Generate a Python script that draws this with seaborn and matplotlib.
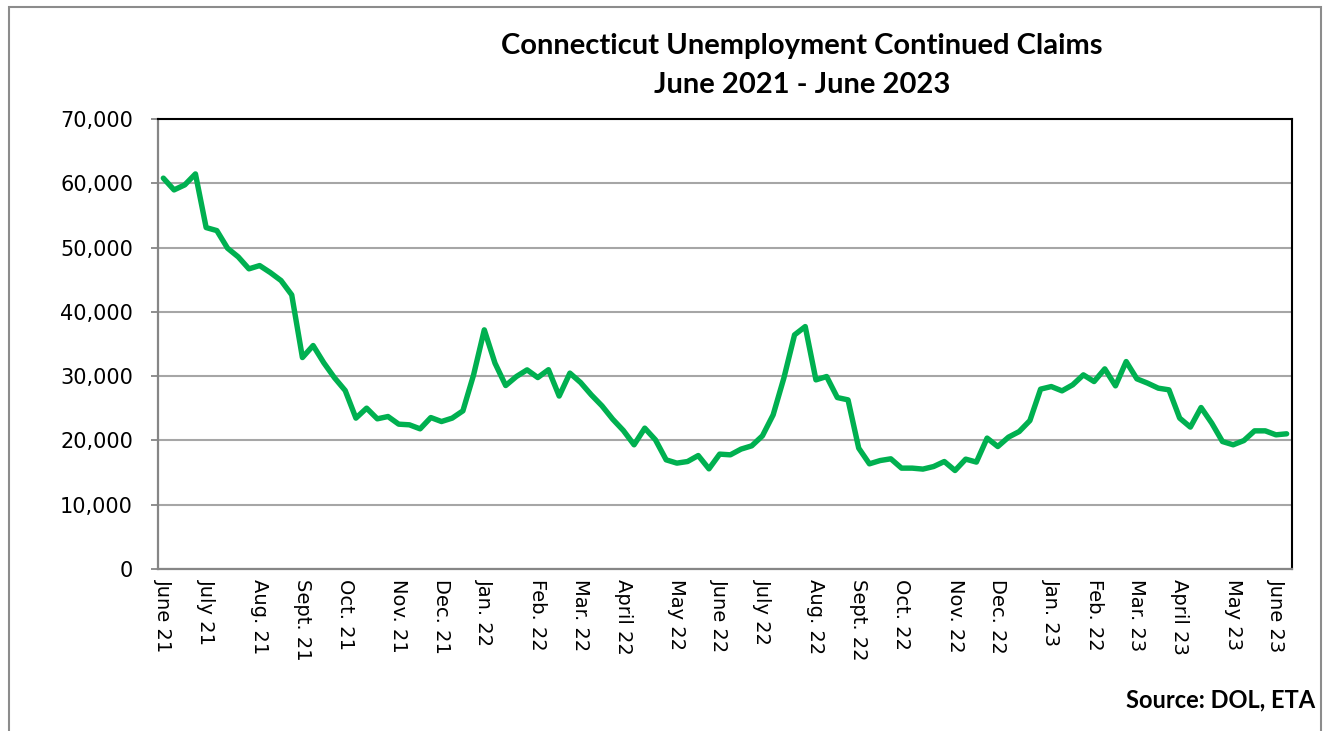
"""
Connecticut - seguro-desemprego, pedidos continuados (semanal), jun/2021 a jun/2023.

Saída:
    - out.png
"""

import matplotlib.pyplot as plt
import pandas as pd
import seaborn as sns
from matplotlib.patches import Rectangle
from matplotlib.ticker import FixedLocator, FuncFormatter

# ---------------------------------------------------------------------------
# 1. Dados (valores semanais)
# ---------------------------------------------------------------------------
CLAIMS = [
    60800, 58970, 59750, 61460, 53110, 52640, 49900, 48550, 46690, 47200,
    46110, 44870, 42640, 32890, 34760, 32070, 29740, 27760, 23470, 25020,
    23360, 23720, 22530, 22430, 21800, 23560, 22940, 23470, 24600, 30200,
    37200, 32020, 28540, 29940, 30980, 29780, 31000, 26900, 30470, 29010,
    27090, 25380, 23310, 21540, 19320, 21910, 20090, 16980, 16470, 16720,
    17650, 15580, 17870, 17760, 18650, 19160, 20720, 23980, 29690, 36420,
    37710, 29420, 29940, 26670, 26310, 18800, 16360, 16870, 17140, 15690,
    15690, 15540, 15940, 16720, 15320, 17090, 16630, 20360, 19050, 20510,
    21380, 23090, 27980, 28380, 27710, 28650, 30200, 29160, 31130, 28490,
    32270, 29580, 28910, 28130, 27870, 23470, 22070, 25120, 22690, 19830,
    19320, 19980, 21490, 21490, 20870, 21030,
]

# rótulos de categoria (só algumas semanas têm rótulo)
MONTH_LABELS = [
    "June 21", "July 21", "Aug. 21", "Sept. 21", "Oct. 21", "Nov. 21",
    "Dec. 21", "Jan. 22", "Feb. 22", "Mar. 22", "April 22", "May 22",
    "June 22", "July 22", "Aug. 22", "Sept. 22", "Oct. 22", "Nov. 22",
    "Dec. 22", "Jan. 23", "Feb. 22", "Mar. 23", "April 23", "May 23",
    "June 23",
]
MONTH_WEEKS = [
    0, 4, 9, 13, 17, 22, 26, 30, 35, 39, 43, 48, 52,
    56, 61, 65, 69, 74, 78, 83, 87, 91, 95, 100, 104,
]

df = pd.DataFrame({"semana": range(len(CLAIMS)), "claims": CLAIMS})

# ---------------------------------------------------------------------------
# 2. Estilo
# ---------------------------------------------------------------------------
sns.set_theme(style="white")
plt.rcParams["font.family"] = ["DejaVu Sans"]
plt.rcParams["text.color"] = "black"

GREEN = "#00B050"
GRID = "#A6A6A6"
AXIS_GRAY = "#868686"

fig = plt.figure(figsize=(13.23, 7.31), dpi=100)
ax = fig.add_axes([158 / 1323, 1 - 569 / 731, (1292 - 158) / 1323, (569 - 119) / 731])

# ---------------------------------------------------------------------------
# 3. Linha
# ---------------------------------------------------------------------------
sns.lineplot(data=df, x="semana", y="claims", color=GREEN, linewidth=3.9, ax=ax)

ax.set_xlim(-0.5, len(CLAIMS) - 0.5)
ax.set_ylim(0, 70000)
ax.set_yticks(range(0, 70001, 10000))
ax.yaxis.set_major_formatter(FuncFormatter(lambda v, _: f"{int(v):,}"))
ax.grid(axis="y", color=GRID, linewidth=1.5)
ax.grid(axis="x", visible=False)
ax.set_axisbelow(True)

# marcas a cada 28 semanas (entre categorias), rótulos nas semanas escolhidas
ax.xaxis.set_major_locator(FixedLocator([-0.5, 27.5, 55.5, 83.5]))
ax.xaxis.set_major_formatter(FuncFormatter(lambda v, _: ""))
ax.xaxis.set_minor_locator(FixedLocator(MONTH_WEEKS))
ax.set_xticklabels(MONTH_LABELS, minor=True)
ax.tick_params(axis="x", which="major", length=5, width=1.3, color=AXIS_GRAY, direction="inout")
ax.tick_params(axis="x", which="minor", length=0, pad=7, labelsize=14, labelrotation=-90,
               labelcolor="black")
ax.tick_params(axis="y", length=5, width=1.3, color=AXIS_GRAY, pad=13, labelsize=15, left=True,
               labelcolor="black")
for lab in ax.get_xticklabels(minor=True):
    lab.set_verticalalignment("top")

ax.set_xlabel("")
ax.set_ylabel("")

for side in ["left", "bottom"]:
    ax.spines[side].set_color(AXIS_GRAY)
    ax.spines[side].set_linewidth(1.6)
for side in ["top", "right"]:
    ax.spines[side].set_color("black")
    ax.spines[side].set_linewidth(1.5)

# ---------------------------------------------------------------------------
# 4. Títulos, fonte e moldura
# ---------------------------------------------------------------------------
fig.text(802 / 1323, 1 - 46 / 731, "Connecticut Unemployment Continued Claims",
         ha="center", va="center", fontsize=21, fontweight="bold", family="Lato")
fig.text(802 / 1323, 1 - 85 / 731, "June 2021 - June 2023",
         ha="center", va="center", fontsize=21, fontweight="bold", family="Lato")
fig.text(1315 / 1323, 1 - 700 / 731, "Source: DOL, ETA",
         ha="right", va="center", fontsize=17, fontweight="bold", family="Lato")

fig.patches.append(Rectangle(
    (9 / 1323, -0.05), (1321 - 9) / 1323, 1.05 - 7 / 731,
    transform=fig.transFigure, fill=False, edgecolor="#8C8C8C", linewidth=1.5,
))

fig.savefig("out.png", dpi=100)
plt.close(fig)
